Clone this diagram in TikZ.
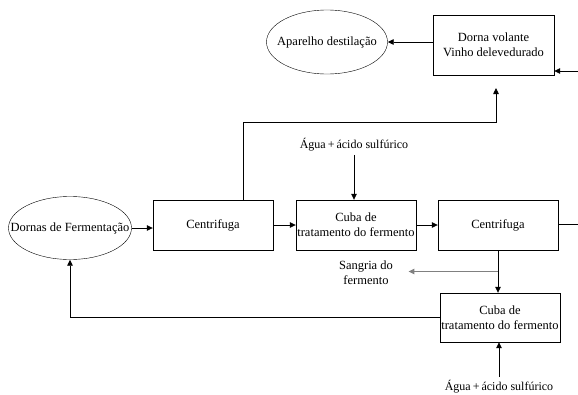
\documentclass[tikz,border=0pt]{standalone}
\usepackage{fontspec}
\setmainfont{Liberation Serif}
\usetikzlibrary{shapes.geometric,calc,arrows.meta}

\begin{document}
\begin{tikzpicture}[x=1pt, y=-1pt, >={Triangle[length=6pt, width=5.5pt]},
            every node/.style={font=\fontsize{12.5}{15}\selectfont},
            caixa/.style={draw, minimum width=120pt, minimum height=50pt, inner sep=0pt, align=center},
            elipse/.style={draw, ellipse, inner sep=0pt},
            agua/.style={font=\fontsize{12}{14}\selectfont},
            fluxo/.style={->, line width=0.8pt}]
            \useasboundingbox (0, 0) rectangle (578, 394);

            \node[elipse, minimum width=121pt, minimum height=64pt, label=center:{Aparelho destilação}] (aparelho) at (327, 42) {};
            \node[caixa, minimum width=121pt, minimum height=60pt] (volante) at (493.5, 45) {Dorna volante\\Vinho delevedurado};

            \node[elipse, minimum width=123pt, minimum height=63pt, label=center:{Dornas de Fermentação}] (dornas) at (70, 228) {};
            \node[caixa] (centri1) at (213, 225) {Centrifuga};
            \node[caixa] (cuba1) at (356, 225) {Cuba de\\tratamento do fermento};
            \node[caixa] (centri2) at (498, 225) {Centrifuga};
            \node[caixa, minimum height=49pt] (cuba2) at (500, 317.5) {Cuba de\\tratamento do fermento};

            \node[agua] (agua1) at (354, 145) {Água\,+\,ácido sulfúrico};
            \node[agua] (agua2) at (499, 387) {Água\,+\,ácido sulfúrico};
            \node[align=center] (sangria) at (366, 273) {Sangria do\\fermento};

            \coordinate (entrada) at (578, 71);
            \coordinate (saida) at (578, 224);
            \coordinate (vinho) at (496, 88);
            \coordinate (curva) at (496, 122);
            \coordinate (desvio) at ($(centri2.south)!0.5!(centri2.south |- cuba2.north)$);

            \draw[fluxo] (volante.west |- aparelho.east) -- (aparelho.east);
            \draw[fluxo] (entrada) -- (entrada -| volante.east);
            \draw[fluxo] (dornas.east) -- (centri1.west |- dornas.east);
            \draw[fluxo] (centri1.east) -- (cuba1.west);
            \draw[fluxo] (cuba1.east) -- (centri2.west);
            \draw[line width=0.8pt] (centri2.east |- saida) -- (saida);
            \draw[fluxo] ([xshift=30pt]centri1.north) |- (curva) -- (vinho);
            \draw[fluxo] (agua1.south) -- (agua1.south |- cuba1.north);
            \draw[fluxo] (centri2.south) -- (centri2.south |- cuba2.north);
            \draw[fluxo, gray, line width=1.2pt] (desvio) -- ([xshift=12pt]sangria.east |- desvio);
            \draw[fluxo] (cuba2.west) -| (dornas.south);
            \draw[fluxo] (agua2.north) -- (agua2.north |- cuba2.south);
        \end{tikzpicture}
\end{document}
